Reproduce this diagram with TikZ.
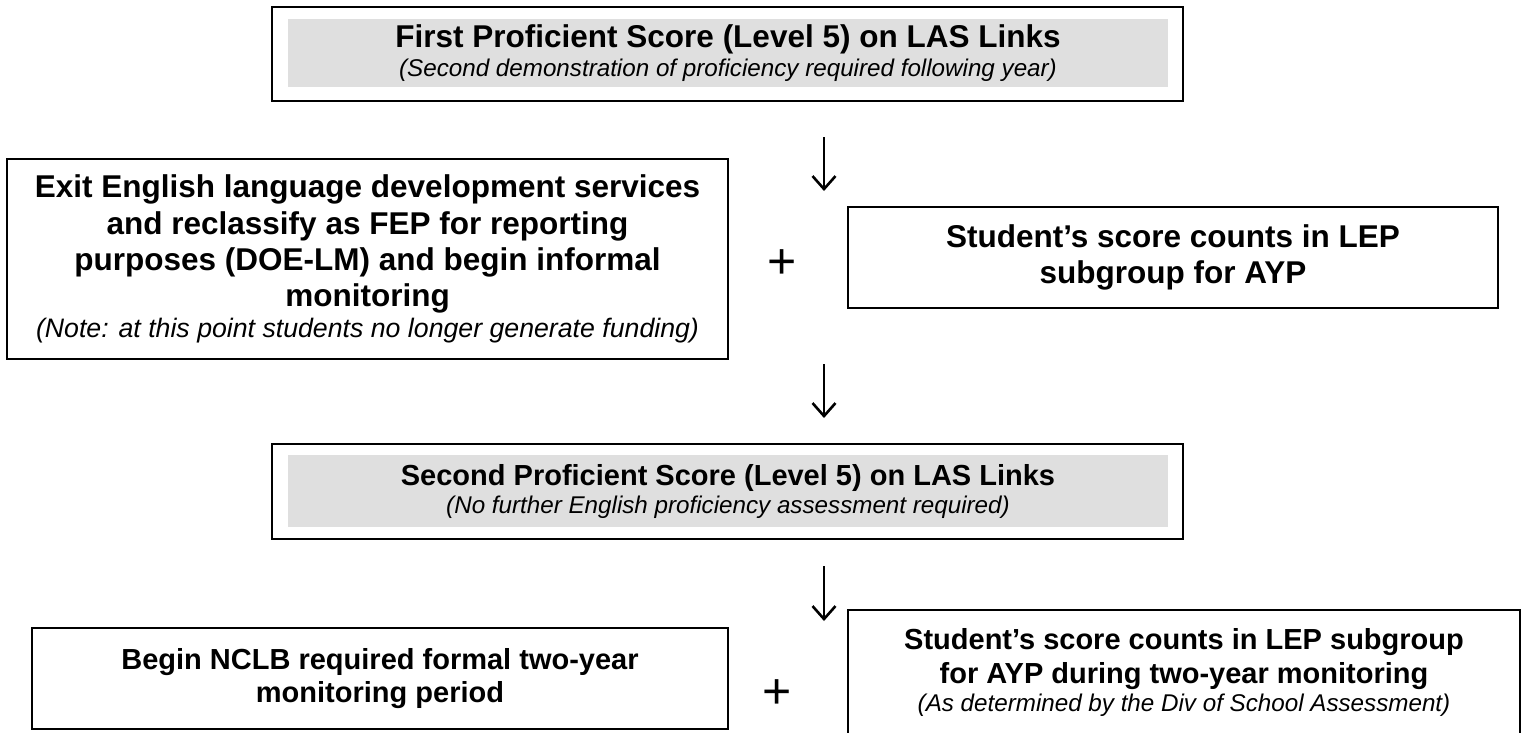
\documentclass[tikz,border=0pt]{standalone}
\usepackage{fontspec}
\setmainfont{Liberation Sans}
\usetikzlibrary{arrows.meta,calc}
\definecolor{boxgrey}{RGB}{223,223,223}
\newcommand{\notetext}[1]{{\fontsize{26.7}{30.7}\selectfont\mdseries\itshape #1}}
\newcommand{\smallnote}[1]{{\fontsize{24.2}{27.8}\selectfont\mdseries\itshape #1}}
\tikzset{
  frame/.style={draw=black, line width=2.2pt},
  boxtext/.style={align=center, inner sep=0pt, font=\fontsize{31.5}{36.2}\selectfont\bfseries},
  lowtext/.style={align=center, inner sep=0pt, font=\fontsize{29}{33.4}\selectfont\bfseries},
  plainbox/.style={boxtext, frame},
  lowbox/.style={lowtext, frame},
  greyband/.style={fill=boxgrey},
  arr/.style={line width=2pt, -{Straight Barb[length=13pt,width=23pt,line width=2.6pt]}},
  plussign/.style={font=\fontsize{50}{50}\selectfont, inner sep=0pt}
}
\begin{document}
\begin{tikzpicture}[x=1pt,y=-1pt]
\useasboundingbox (0,0) rectangle (1522,732);
\fill[white] (0,0) rectangle (1522,732);

% top box
\node[boxtext, greyband, minimum width=880, minimum height=68] (t1) at (728,53)
  {First Proficient Score (Level 5) on LAS Links\\[-6.6pt]\smallnote{(Second demonstration of proficiency required following year)}};
\draw[frame] ($(t1.north west)+(-16,-12)$) rectangle ($(t1.south east)+(15,14)$);

% first arrow
\coordinate (a1s) at (824,137);
\coordinate (a1e) at (824,191);
\draw[arr] (a1s) -- (a1e);

% left box 1
\node[plainbox, minimum width=721, minimum height=200] (l1) at (367.5,259)
  {Exit English language development services\\ and reclassify as FEP for reporting\\ purposes (DOE-LM) and begin informal\\ monitoring\\[-5.3pt]\notetext{(Note: at this point students no longer generate funding)}};

\node[plussign] (p1) at (782,264) {+};

% right box 1
\node[plainbox, minimum width=650, minimum height=101] (r1) at (1173,257.5)
  {Student’s score counts in LEP\\ subgroup for AYP};

% second arrow
\coordinate (a2s) at (824,364);
\coordinate (a2e) at (824,418);
\draw[arr] (a2s) -- (a2e);

% second box
\node[lowtext, greyband, minimum width=880, minimum height=72] (t2) at (728,491)
  {Second Proficient Score (Level 5) on LAS Links\\[-5.4pt]\smallnote{(No further English proficiency assessment required)}};
\draw[frame] ($(t2.north west)+(-16,-11)$) rectangle ($(t2.south east)+(15,12)$);

% third arrow
\coordinate (a3s) at (824,566);
\coordinate (a3e) at (824,621);
\draw[arr] (a3s) -- (a3e);

% bottom left
\node[lowbox, minimum width=696, minimum height=101] (bl) at (380,678.5)
  {Begin NCLB required formal two-year\\ monitoring period};

\node[plussign] (p2) at (777,694) {+};

% bottom right
\node[lowbox, minimum width=672, minimum height=125] (br) at (1184,672.5)
  {Student’s score counts in LEP subgroup\\ for AYP during two-year monitoring\\[-5.4pt]\smallnote{(As determined by the Div of School Assessment)}};
\end{tikzpicture}
\end{document}
